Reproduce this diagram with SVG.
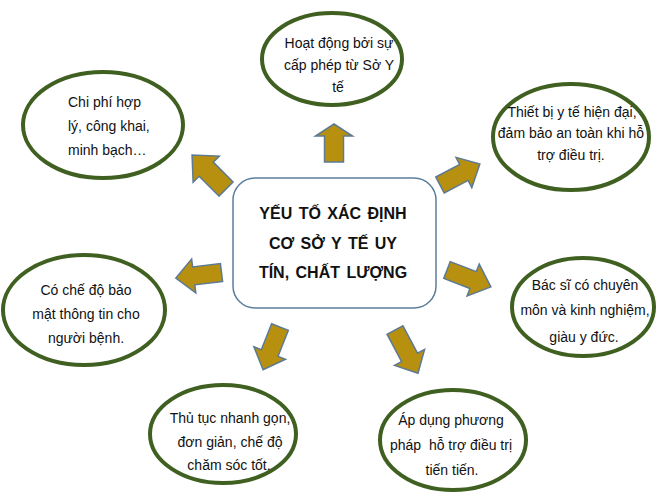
<svg xmlns="http://www.w3.org/2000/svg" width="661" height="501" viewBox="0 0 661 501">
<defs>
<style>
.ell{fill:#fff;stroke:#3f6020;stroke-width:4}
.box{fill:#fff;stroke:#5b7e9c;stroke-width:1.5}
.arr{fill:#b8900f;stroke:#5c7a94;stroke-width:1.5;stroke-linejoin:miter}
.t{font-family:"Liberation Sans",Arial,sans-serif;font-size:14px;fill:#111;text-anchor:middle}
.tl{text-anchor:start}
.c{font-family:"Liberation Sans",Arial,sans-serif;font-size:16px;font-weight:bold;fill:#111;text-anchor:middle}
</style>
</defs>
<g id="connectors">
<path class="arr" transform="translate(334,162) rotate(-90)" d="M0,-9.5 L26,-9.5 L26,-18.5 L38,0 L26,18.5 L26,9.5 L0,9.5 Z"/>
<path class="arr" transform="translate(226,189) rotate(-135)" d="M0,-10 L28,-10 L28,-18.5 L48,0 L28,18.5 L28,10 L0,10 Z"/>
<path class="arr" transform="translate(440,185) rotate(-27.7)" d="M0,-9 L27,-9 L27,-17 L45,0 L27,17 L27,9 L0,9 Z"/>
<path class="arr" transform="translate(221.5,272.5) rotate(173)" d="M0,-9 L28,-9 L28,-17 L46,0 L28,17 L28,9 L0,9 Z"/>
<path class="arr" transform="translate(447,270) rotate(21)" d="M0,-9 L28,-9 L28,-17 L47,0 L28,17 L28,9 L0,9 Z"/>
<path class="arr" transform="translate(280,327) rotate(111.6)" d="M0,-9 L28,-9 L28,-17 L46,0 L28,17 L28,9 L0,9 Z"/>
<path class="arr" transform="translate(395,330) rotate(62)" d="M0,-9 L31,-9 L31,-17 L49,0 L31,17 L31,9 L0,9 Z"/>
</g>
<g id="center">
<rect class="box" x="233" y="178" width="203" height="130" rx="22"/>
<text class="c" x="333" y="219" word-spacing="2">YẾU TỐ XÁC ĐỊNH</text>
<text class="c" x="333" y="249" word-spacing="2">CƠ SỞ Y TẾ UY</text>
<text class="c" x="333" y="278" word-spacing="2">TÍN, CHẤT LƯỢNG</text>
</g>
<g id="n-top">
<ellipse class="ell" cx="332" cy="59" rx="70" ry="46"/>
<text class="t" x="339" y="48">Hoạt động bởi sự</text>
<text class="t" x="339" y="70">cấp phép từ Sở Y</text>
<text class="t" x="338" y="92">tế</text>
</g>
<g id="n-topleft">
<ellipse class="ell" cx="103" cy="125" rx="80" ry="53"/>
<text class="t tl" x="68" y="107">Chi phí hợp</text>
<text class="t tl" x="68" y="131">lý, công khai,</text>
<text class="t tl" x="68" y="155">minh bạch…</text>
</g>
<g id="n-topright">
<ellipse class="ell" cx="571" cy="137" rx="78" ry="53"/>
<text class="t" x="572" y="117">Thiết bị y tế hiện đại,</text>
<text class="t" x="571" y="138">đảm bảo an toàn khi hỗ</text>
<text class="t" x="571" y="160">trợ điều trị.</text>
</g>
<g id="n-left">
<ellipse class="ell" cx="84" cy="310" rx="81" ry="55"/>
<text class="t" x="86" y="295">Có chế độ bảo</text>
<text class="t" x="86" y="319">mật thông tin cho</text>
<text class="t" x="86" y="343">người bệnh.</text>
</g>
<g id="n-right">
<ellipse class="ell" cx="583" cy="307" rx="71" ry="49"/>
<text class="t" x="585" y="290">Bác sĩ có chuyên</text>
<text class="t" x="585" y="315">môn và kinh nghiệm,</text>
<text class="t" x="584" y="342">giàu y đức.</text>
</g>
<g id="n-bottomleft">
<ellipse class="ell" cx="223" cy="434" rx="73" ry="49"/>
<text class="t" x="230" y="423">Thủ tục nhanh gọn,</text>
<text class="t" x="230" y="447">đơn giản, chế độ</text>
<text class="t" x="229" y="470">chăm sóc tốt.</text>
</g>
<g id="n-bottomright">
<ellipse class="ell" cx="453" cy="440" rx="73" ry="50"/>
<text class="t" x="451" y="425">Áp dụng phương</text>
<text class="t" x="451" y="450">pháp&#160; hỗ trợ điều trị</text>
<text class="t" x="452" y="475">tiến tiến.</text>
</g>
</svg>
